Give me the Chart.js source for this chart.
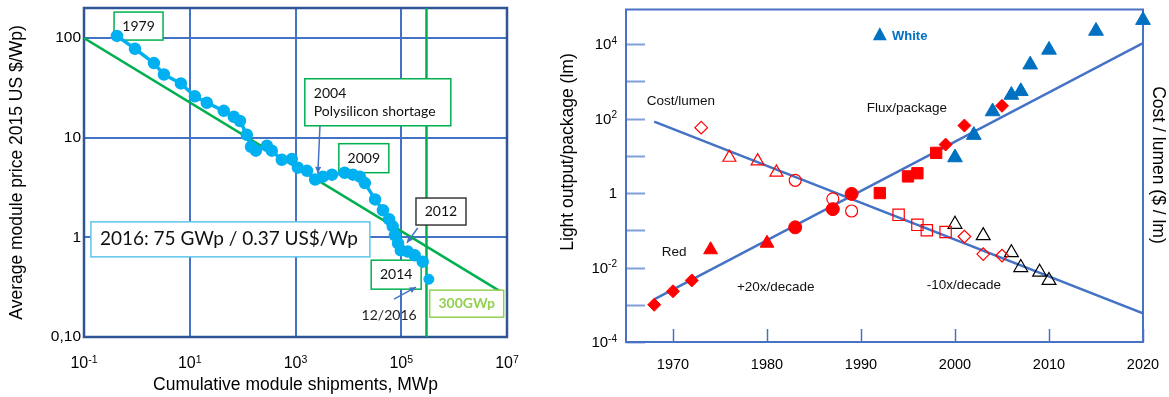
<!DOCTYPE html>
<html lang="en">
<head>
<meta charset="UTF-8" />
<title>PV and LED learning curves</title>
<script src="https://cdn.jsdelivr.net/npm/chart.js"></script>
<style>
  html, body { margin: 0; padding: 0; background: #fff; }
  #wrap { position: relative; width: 1169px; height: 397px; }
  #pvChart { position: absolute; left: 0; top: 0; }
  #ledChart { position: absolute; left: 560px; top: 0; }
</style>
</head>
<body>
<div id="wrap">
  <canvas id="pvChart" width="560" height="397"></canvas>
  <canvas id="ledChart" width="609" height="397"></canvas>
</div>
<script>
// ---------- left: PV module price vs cumulative shipments ----------
const pvShipments = [0.42, 0.92, 2.1, 3.25, 6.8, 12.5, 21, 44, 68, 89, 120, 144, 178, 288, 356, 550, 850, 1110,
  1650, 2350, 3300, 4900, 8500, 12200, 16500, 20500, 32000, 45000, 59000, 69000, 76000, 87000, 98000, 133000, 180000, 255000];
const pvPrice = [105, 78, 56, 43, 35, 26, 22.4, 18.6, 16.2, 14.7, 10.7, 8.1, 7.4, 8.3, 7.4, 6.0, 6.1, 5.0,
  4.65, 3.8, 4.06, 4.25, 4.45, 4.25, 4.06, 3.5, 2.4, 1.87, 1.52, 1.29, 1.05, 0.87, 0.74, 0.72, 0.66, 0.57];
const pv2016Shipments = [333000];
const pv2016Price = [0.38];
const expLineShipments = [0.1, 7.2e6];
const expLinePrice = [100, 0.29];
const capLineShipments = [3e5, 3e5];
const capLinePrice = [0.1, 200];
const pvXTicks = [0.1, 10, 1000, 1e5, 1e7];
const pvXTickExp = ['-1', '1', '3', '5', '7'];
const pvYTicks = [0.1, 1, 10, 100];
const pvYTickLabels = ['0,10', '1', '10', '100'];

// ---------- right: LED flux/package and cost/lumen ----------
const trendYears = [1968, 2020];
const costTrend = [83, 0.00059];
const fluxTrend = [0.0014, 10700];
// flux/package (filled marks)
const redDiamondYears = [1968, 1970, 1972, 1999, 2001, 2005];
const redDiamondFlux = [0.001, 0.0023, 0.0045, 20, 65, 220];
const redTriangleYears = [1974, 1980];
const redTriangleFlux = [0.03, 0.045];
const redCircleYears = [1983, 1987, 1989];
const redCircleFlux = [0.12, 0.37, 0.95];
const redSquareYears = [1992, 1995, 1996, 1998];
const redSquareFlux = [1.0, 2.8, 3.4, 12];
const whiteYears = [2000, 2002, 2004, 2006, 2007, 2008, 2010, 2015, 2020];
const whiteFlux = [9, 36, 155, 430, 540, 2800, 7000, 22500, 44000];
// cost/lumen (open marks)
const costDiamondYears = [1973, 2001, 2003, 2005];
const costDiamond = [57, 0.068, 0.023, 0.021];
const costTriangleYears = [1976, 1979, 1981];
const costTriangle = [9, 7.2, 3.6];
const costCircleYears = [1983, 1987, 1989];
const costCircle = [2.2, 0.7, 0.33];
const costSquareYears = [1994, 1996, 1997, 1999];
const costSquare = [0.26, 0.14, 0.10, 0.09];
const whiteCostYears = [2000, 2003, 2006, 2007, 2009, 2010];
const whiteCost = [0.145, 0.072, 0.025, 0.01, 0.0075, 0.0045];
const yearTicks = [1970, 1980, 1990, 2000, 2010, 2020];
const fluxTicks = [1e-4, 1e-3, 1e-2, 1e-1, 1, 10, 100, 1e3, 1e4];
const fluxTickLabels = [['10', '-4'], null, ['10', '-2'], null, ['1', ''], null, ['10', '2'], null, ['10', '4']];

const ARIAL = "'Liberation Sans', Arial, sans-serif";
const CALIBRI = "Lato, 'Open Sans', sans-serif";
Chart.defaults.font.family = ARIAL;
Chart.defaults.color = '#000';

const pts = (xs, ys) => xs.map((x, i) => ({ x: x, y: ys[i] }));

// "10" with a raised exponent; align is 'center' or 'right'
function powerLabel(ctx, base, exp, x, baseline, align, size, expSize, rise) {
  ctx.font = size + 'px ' + ARIAL;
  const wb = ctx.measureText(base).width;
  ctx.font = expSize + 'px ' + ARIAL;
  const we = exp ? ctx.measureText(exp).width : 0;
  const total = wb + we;
  const left = align === 'right' ? x - total : x - total / 2;
  ctx.textAlign = 'left';
  ctx.textBaseline = 'alphabetic';
  ctx.font = size + 'px ' + ARIAL;
  ctx.fillText(base, left, baseline);
  if (exp) {
    ctx.font = expSize + 'px ' + ARIAL;
    ctx.fillText(exp, left + wb, baseline - rise);
  }
}

// annotation boxes for the PV chart, anchored at data coordinates (top-left corner)
const pvBoxes = [
  { x: 0.37, y: 182, w: 49, h: 28, text: ['1979'], border: '#00b050' },
  { x: 1500, y: 39, w: 146, h: 47, text: ['2004', 'Polysilicon shortage'], border: '#00b050', align: 'left' },
  { x: 6600, y: 8.7, w: 50, h: 29, text: ['2009'], border: '#00b050' },
  { x: 190000, y: 2.48, w: 50, h: 27, text: ['2012'], border: '#3a3a3a' },
  { x: 27000, y: 0.59, w: 50, h: 29, text: ['2014'], border: '#00b050' },
  { x: 345000, y: 0.295, w: 74, h: 27, text: ['300GWp'], border: '#92d050', color: '#92d050', bold: true },
  { x: 0.135, y: 1.43, w: 279, h: 35, text: ['2016: 75 GWp / 0.37 US$/Wp'], border: '#5cc6ee', align: 'left', size: 19 }
];
const pvArrows = [
  { from: [2900, 13.1], to: [2650, 4.4] },
  { from: [205000, 1.24], to: [128000, 0.88] },
  { from: [73000, 0.24], to: [190000, 0.316] }
];

function arrow(ctx, x1, y1, x2, y2) {
  const a = Math.atan2(y2 - y1, x2 - x1);
  ctx.beginPath();
  ctx.moveTo(x1, y1);
  ctx.lineTo(x2, y2);
  ctx.stroke();
  ctx.beginPath();
  ctx.moveTo(x2, y2);
  ctx.lineTo(x2 - 7 * Math.cos(a - 0.45), y2 - 7 * Math.sin(a - 0.45));
  ctx.lineTo(x2 - 7 * Math.cos(a + 0.45), y2 - 7 * Math.sin(a + 0.45));
  ctx.closePath();
  ctx.fill();
}

const pvDecor = {
  id: 'pvDecor',
  beforeDatasetsDraw(chart) {
    const { ctx, chartArea: a, scales: { x } } = chart;
    ctx.save();
    ctx.strokeStyle = '#2f5597';
    ctx.lineWidth = 2.5;
    ctx.strokeRect(a.left, a.top, a.width, a.height);
    // x tick labels as powers of ten
    ctx.fillStyle = '#000';
    pvXTicks.forEach((v, i) => powerLabel(ctx, '10', pvXTickExp[i], x.getPixelForValue(v), a.bottom + 31, 'center', 16, 10.5, 5));
    ctx.restore();
  },
  // boxes go over the green lines but under the price curve
  beforeDatasetDraw(chart, args) {
    if (args.index !== 1) return;
    const { ctx, scales: { x, y } } = chart;
    ctx.save();
    pvBoxes.forEach(b => {
      const bx = x.getPixelForValue(b.x), by = y.getPixelForValue(b.y);
      ctx.fillStyle = '#fff';
      ctx.fillRect(bx, by, b.w, b.h);
      ctx.strokeStyle = b.border;
      ctx.lineWidth = 1.5;
      ctx.strokeRect(bx, by, b.w, b.h);
      ctx.fillStyle = b.color || '#111';
      ctx.font = (b.bold ? 'bold ' : '') + (b.size || 14) + 'px ' + CALIBRI;
      ctx.textBaseline = 'middle';
      ctx.textAlign = b.align === 'left' ? 'left' : 'center';
      const tx = b.align === 'left' ? bx + 9 : bx + b.w / 2;
      const lh = 18;
      const y0 = by + b.h / 2 - (b.text.length - 1) * lh / 2;
      b.text.forEach((t, i) => ctx.fillText(t, tx, y0 + i * lh));
    });
    ctx.restore();
  },
  afterDatasetsDraw(chart) {
    const { ctx, scales: { x, y } } = chart;
    ctx.save();
    ctx.strokeStyle = '#4472c4';
    ctx.fillStyle = '#4472c4';
    ctx.lineWidth = 1.5;
    pvArrows.forEach(r => arrow(ctx, x.getPixelForValue(r.from[0]), y.getPixelForValue(r.from[1]),
      x.getPixelForValue(r.to[0]), y.getPixelForValue(r.to[1])));
    ctx.fillStyle = '#222';
    ctx.font = '14px ' + CALIBRI;
    ctx.textAlign = 'center';
    ctx.textBaseline = 'middle';
    ctx.fillText('12/2016', x.getPixelForValue(59000), y.getPixelForValue(0.166));
    ctx.restore();
  }
};

new Chart(document.getElementById('pvChart').getContext('2d'), {
  type: 'scatter',
  data: {
    datasets: [
      { label: 'Module price', data: pts(pvShipments, pvPrice), showLine: true, order: 0,
        borderColor: '#00b0f0', backgroundColor: '#00b0f0', borderWidth: 3.5, pointRadius: 4.5, borderJoinStyle: 'round' },
      { label: '12/2016', data: pts(pv2016Shipments, pv2016Price), order: 1,
        borderColor: '#00b0f0', backgroundColor: '#00b0f0', pointRadius: 5 },
      { label: 'Experience curve', data: pts(expLineShipments, expLinePrice), showLine: true, order: 2,
        borderColor: '#00b050', borderWidth: 2.5, pointRadius: 0 },
      { label: '300 GWp', data: pts(capLineShipments, capLinePrice), showLine: true, order: 2,
        borderColor: '#00b050', borderWidth: 2.5, pointRadius: 0 }
    ]
  },
  options: {
    responsive: false,
    animation: false,
    layout: { padding: { left: 0, top: 8, right: 53, bottom: 0 } },
    plugins: { legend: { display: false }, tooltip: { enabled: false } },
    scales: {
      x: {
        type: 'logarithmic', min: 0.1, max: 1e7,
        afterBuildTicks: s => { s.ticks = pvXTicks.map(v => ({ value: v })); },
        afterFit: s => { s.height = 60; s.paddingLeft = 0; s.paddingRight = 0; },
        grid: { color: '#4472c4', lineWidth: 2, drawTicks: false },
        border: { display: false },
        ticks: { display: false },
        title: { display: true, text: 'Cumulative module shipments, MWp', font: { size: 17.5 }, padding: { top: 0, bottom: 1.5 } }
      },
      y: {
        type: 'logarithmic', min: 0.1, max: 200,
        afterBuildTicks: s => { s.ticks = pvYTicks.map(v => ({ value: v })); },
        afterFit: s => { s.width = 84; s.paddingTop = 0; s.paddingBottom = 0; },
        grid: { color: '#4472c4', lineWidth: 2, drawTicks: false },
        border: { display: false },
        ticks: { callback: (v, i) => pvYTickLabels[i], autoSkip: false, padding: 3, font: { size: 15.5 } },
        title: { display: true, text: 'Average module price 2015 US $/Wp)', font: { size: 17.5 }, padding: { top: 6.5, bottom: 0 } }
      }
    }
  },
  plugins: [pvDecor]
});

// ---------- right chart ----------
const ledLabels = [
  { text: 'Cost/lumen', year: 1967.2, value: 300 },
  { text: 'Flux/package', year: 1990.6, value: 195 },
  { text: 'Red', year: 1968.8, value: 0.025 },
  { text: '+20x/decade', year: 1976.8, value: 0.0029 },
  { text: '-10x/decade', year: 1997.0, value: 0.0033 }
];
const whiteKey = { year: 1992.0, value: 17400, textYear: 1993.3 };

function vText(ctx, text, x, y, rot) {
  ctx.save();
  ctx.translate(x, y);
  ctx.rotate(rot);
  ctx.textAlign = 'center';
  ctx.textBaseline = 'middle';
  ctx.fillText(text, 0, 0);
  ctx.restore();
}

const ledDecor = {
  id: 'ledDecor',
  beforeDatasetsDraw(chart) {
    const { ctx, chartArea: a, scales: { x, y } } = chart;
    ctx.save();
    // tick marks sit inside the frame
    ctx.strokeStyle = '#7f9fd8';
    ctx.lineWidth = 2;
    fluxTicks.forEach(v => {
      const py = Math.round(y.getPixelForValue(v)) + 0.5;
      ctx.beginPath(); ctx.moveTo(a.left, py); ctx.lineTo(a.left + 19, py); ctx.stroke();
    });
    ctx.strokeStyle = '#4472c4';
    ctx.lineWidth = 1.5;
    yearTicks.forEach(v => {
      const px = Math.round(x.getPixelForValue(v)) + 0.5;
      ctx.beginPath(); ctx.moveTo(px, a.bottom); ctx.lineTo(px, a.bottom - 13); ctx.stroke();
    });
    ctx.strokeStyle = '#4a72c4';
    ctx.lineWidth = 2;
    ctx.strokeRect(a.left, a.top, a.width, a.height);
    // y tick labels
    ctx.fillStyle = '#000';
    fluxTicks.forEach((v, i) => {
      const l = fluxTickLabels[i];
      if (!l) return;
      const py = y.getPixelForValue(v);
      powerLabel(ctx, l[0], l[1], a.left - 9, py + 5.3, 'right', 15, 10, 5.5);
    });
    // axis titles
    ctx.font = '17.5px ' + ARIAL;
    vText(ctx, 'Light output/package (lm)', 8, 152, -Math.PI / 2);
    vText(ctx, 'Cost / lumen ($ / lm)', 598, 165, Math.PI / 2);
    ctx.restore();
  },
  afterDatasetsDraw(chart) {
    const { ctx, scales: { x, y } } = chart;
    ctx.save();
    ctx.fillStyle = '#111';
    ctx.font = '13.5px ' + ARIAL;
    ctx.textAlign = 'left';
    ctx.textBaseline = 'middle';
    ledLabels.forEach(l => ctx.fillText(l.text, x.getPixelForValue(l.year), y.getPixelForValue(l.value)));
    // "White" key
    const kx = x.getPixelForValue(whiteKey.year), ky = y.getPixelForValue(whiteKey.value);
    ctx.fillStyle = '#0070c0';
    ctx.beginPath();
    ctx.moveTo(kx, ky - 8);
    ctx.lineTo(kx + 7, ky + 5);
    ctx.lineTo(kx - 7, ky + 5);
    ctx.closePath();
    ctx.fill();
    ctx.font = 'bold 13px ' + ARIAL;
    ctx.fillText('White', x.getPixelForValue(whiteKey.textYear), ky + 1);
    ctx.restore();
  }
};

const mark = (label, xs, ys, style, r, color, filled) => ({
  label: label, data: pts(xs, ys), pointStyle: style, pointRadius: r, pointHoverRadius: r,
  borderColor: color, backgroundColor: filled ? color : 'rgba(0,0,0,0)', pointBorderWidth: filled ? 1 : 1.2,
  clip: false, order: filled ? 0 : 1
});

new Chart(document.getElementById('ledChart').getContext('2d'), {
  type: 'scatter',
  data: {
    datasets: [
      { label: 'Cost trend', data: pts(trendYears, costTrend), showLine: true, borderColor: '#4472c4', borderWidth: 2.5, pointRadius: 0, order: 2 },
      { label: 'Flux trend', data: pts(trendYears, fluxTrend), showLine: true, borderColor: '#4472c4', borderWidth: 2.5, pointRadius: 0, order: 2 },
      mark('Red diamonds', redDiamondYears, redDiamondFlux, 'rectRot', 6.5, '#ff0000', true),
      mark('Red triangles', redTriangleYears, redTriangleFlux, 'triangle', 8, '#ff0000', true),
      mark('Red circles', redCircleYears, redCircleFlux, 'circle', 6.5, '#ff0000', true),
      mark('Red squares', redSquareYears, redSquareFlux, 'rect', 8, '#ff0000', true),
      mark('White', whiteYears, whiteFlux, 'triangle', 8.5, '#0070c0', true),
      mark('Cost diamonds', costDiamondYears, costDiamond, 'rectRot', 6.3, '#ff0000', false),
      mark('Cost triangles', costTriangleYears, costTriangle, 'triangle', 7.5, '#ff0000', false),
      mark('Cost circles', costCircleYears, costCircle, 'circle', 6, '#ff0000', false),
      mark('Cost squares', costSquareYears, costSquare, 'rect', 8, '#ff0000', false),
      mark('White cost', whiteCostYears, whiteCost, 'triangle', 8, '#000000', false)
    ]
  },
  options: {
    responsive: false,
    animation: false,
    layout: { padding: { left: 0, top: 6, right: 26, bottom: 0 } },
    plugins: { legend: { display: false }, tooltip: { enabled: false } },
    scales: {
      x: {
        type: 'linear', min: 1965, max: 2020,
        afterBuildTicks: s => { s.ticks = yearTicks.map(v => ({ value: v })); },
        afterFit: s => { s.height = 55; s.paddingLeft = 0; s.paddingRight = 0; },
        grid: { display: false, drawTicks: false },
        border: { display: false },
        ticks: { callback: v => String(v), autoSkip: false, maxRotation: 0, padding: 14, font: { size: 14.5 } }
      },
      y: {
        type: 'logarithmic', min: 1e-4, max: 85000,
        afterBuildTicks: s => { s.ticks = fluxTicks.map(v => ({ value: v })); },
        afterFit: s => { s.width = 66; s.paddingTop = 0; s.paddingBottom = 0; },
        grid: { display: false, drawTicks: false },
        border: { display: false },
        ticks: { display: false }
      }
    }
  },
  plugins: [ledDecor]
});
</script>
</body>
</html>
